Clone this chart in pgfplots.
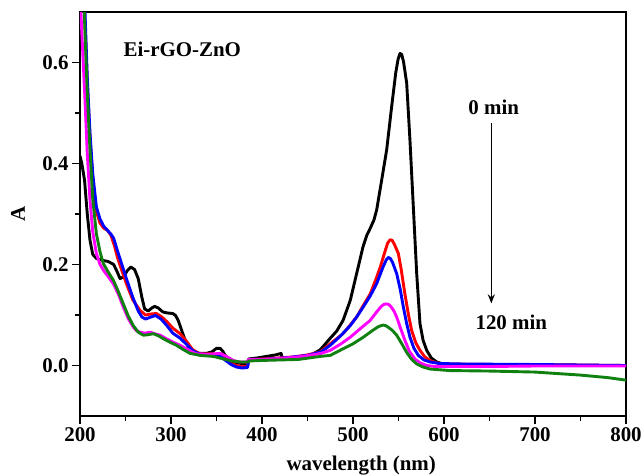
\documentclass[border=0pt]{standalone}
\usepackage{fontspec}
\setmainfont{Liberation Serif}
\usepackage{pgfplots}
\pgfplotsset{compat=1.18}
\usetikzlibrary{arrows.meta}

\definecolor{cblack}{RGB}{0,0,0}
\definecolor{cred}{RGB}{255,0,0}
\definecolor{cblue}{RGB}{0,0,255}
\definecolor{cmag}{RGB}{255,0,255}
\definecolor{cgreen}{RGB}{16,128,16}

\newcommand{\bigbf}{\fontsize{21}{25}\selectfont\bfseries}

\begin{document}
\begin{tikzpicture}
\begin{axis}[
  width=546bp, height=404bp, scale only axis,
  xmin=200, xmax=800, ymin=-0.1, ymax=0.7,
  xtick={200,300,...,800},
  ytick={0,0.2,0.4,0.6},
  minor x tick num=1, minor y tick num=1,
  xtick pos=left, ytick pos=left,
  tick align=outside,
  major tick length=8bp, minor tick length=5bp,
  axis line style={line width=1.3bp},
  every tick/.style={line width=1.3bp, black},
  tick label style={font=\bigbf},
  /pgf/number format/assume math mode=true,
  yticklabel style={/pgf/number format/.cd, fixed, fixed zerofill, precision=1},
  xticklabel style={/pgf/number format/.cd, fixed, precision=0},
  label style={font=\bigbf},
  xlabel={wavelength (nm)},
  ylabel={A},
  xlabel style={at={(axis description cs:0.515,-0.134)}, anchor=base},
  ylabel style={at={(axis description cs:-0.1136,0.5)}, anchor=center},
  every axis plot/.append style={line width=2.9bp, line join=round},
  clip=true,
]
\coordinate (sw) at (rel axis cs:0,0);

% 0 min
\addplot[cblack] table {
200 0.415
202 0.400
205 0.367
208 0.300
211 0.248
214 0.220
218 0.212
225 0.208
231 0.206
237 0.200
241 0.185
244 0.172
248 0.176
252 0.188
256 0.195
260 0.190
264 0.172
268 0.135
271 0.112
275 0.108
279 0.114
282 0.117
286 0.114
291 0.106
296 0.104
302 0.103
305 0.099
308 0.089
312 0.068
316 0.048
321 0.030
328 0.024
339 0.024
345 0.027
350 0.034
354 0.034
357 0.028
361 0.016
365 0.008
373 0.005
382 0.003
384 0.004
385.5 0.013
395 0.015
405 0.018
415 0.021
421 0.024
422 0.016
435 0.015
446 0.016
455 0.022
464 0.031
475 0.054
482 0.068
489 0.089
497 0.129
504 0.182
511 0.235
515 0.257
519 0.272
523 0.288
526 0.308
531.5 0.367
537 0.427
542.5 0.513
547 0.580
549.5 0.606
551.6 0.618
553.5 0.616
555.5 0.602
559 0.559
562.6 0.446
566.3 0.314
570 0.182
573.6 0.083
577 0.050
581 0.030
586 0.015
592 0.007
600 0.002
620 0.001
650 0.000
700 0.000
800 0.000
};

% red
\addplot[cred] table {
200 0.950
203 0.800
205 0.700
208 0.560
211 0.450
214 0.370
218 0.305
222 0.282
226 0.272
230 0.268
234 0.258
238 0.236
241 0.215
246 0.188
251 0.162
258 0.130
266 0.109
272 0.100
278 0.102
284 0.103
290 0.096
296 0.086
302 0.074
310 0.063
317 0.048
324 0.031
331 0.024
339 0.023
347 0.023
354 0.021
360 0.012
366 0.004
372 0.000
378 -0.002
384 -0.002
385.5 0.011
395 0.012
410 0.014
435 0.017
450 0.021
464 0.027
475 0.043
489 0.063
496 0.078
504 0.096
511 0.118
519 0.142
525 0.170
530 0.195
535 0.225
538 0.242
540.7 0.249
543 0.248
545.5 0.240
549.8 0.222
553 0.190
557 0.142
561 0.100
564.5 0.069
569 0.045
573.6 0.030
579 0.017
584.6 0.010
592 0.005
603 0.003
650 0.002
700 0.002
750 0.001
800 0.000
};

% blue
\addplot[cblue] table {
200 1.050
203 0.850
205.5 0.700
208 0.570
211 0.460
214 0.380
218 0.314
222 0.290
226 0.276
230 0.268
234 0.260
237 0.252
241 0.228
246 0.200
251 0.172
258 0.135
264 0.108
268 0.096
272 0.092
278 0.096
283 0.099
289 0.092
295 0.080
302 0.064
310 0.054
317 0.042
324 0.029
331 0.023
339 0.022
347 0.021
354 0.019
360 0.010
366 0.002
372 -0.003
378 -0.005
384 -0.004
385.5 0.010
395 0.011
410 0.013
430 0.016
450 0.020
465 0.027
475 0.040
486 0.058
497 0.079
504 0.096
511.3 0.116
519 0.138
526 0.162
533 0.195
536.5 0.209
538.8 0.214
541 0.212
543.5 0.204
548 0.182
552 0.150
555.3 0.116
559 0.083
562.6 0.056
567 0.034
571.8 0.020
578 0.011
584.6 0.007
595 0.004
620 0.003
700 0.002
800 0.000
};

% magenta
\addplot[cmag] table {
200 0.740
202 0.660
205.5 0.526
208 0.420
211 0.327
214 0.265
218 0.222
222 0.200
226 0.188
231 0.176
236.6 0.162
242 0.142
247.6 0.116
253 0.093
258.6 0.076
262 0.069
266 0.066
271 0.064
277 0.066
282 0.063
288 0.060
295 0.053
302.5 0.046
310 0.040
317 0.033
323 0.027
328 0.023
339 0.022
347 0.023
354 0.024
360 0.019
368.5 0.010
375 0.007
383 0.007
385.5 0.012
400 0.012
420 0.014
445 0.018
465 0.024
475 0.030
486 0.042
497 0.056
508 0.073
518.7 0.089
526 0.106
531 0.117
534 0.121
536.3 0.122
539 0.121
541.5 0.117
545 0.108
548 0.096
552 0.075
557 0.050
562 0.028
568 0.013
574 0.005
581 0.000
590 -0.002
604 -0.002
650 -0.002
700 -0.001
800 -0.001
};

% green
\addplot[cgreen] table {
200 0.950
203 0.800
204.7 0.700
208 0.540
211 0.427
214 0.330
218 0.261
222 0.225
225.6 0.202
231 0.185
236.6 0.169
242 0.147
247.6 0.122
253 0.098
258.6 0.079
264 0.066
269.6 0.060
275 0.061
280.6 0.063
286 0.059
291.6 0.053
299 0.046
306 0.040
314 0.031
321 0.024
332 0.020
346.6 0.018
357.6 0.013
367 0.009
376 0.007
385 0.007
386 0.009
400 0.010
420 0.011
440 0.012
464 0.018
475 0.020
489 0.033
500 0.043
511.3 0.056
522 0.070
528 0.077
531 0.079
533.3 0.080
536 0.079
538.5 0.076
543 0.070
548 0.060
553 0.045
559 0.026
564 0.013
570 0.003
577 -0.003
584.6 -0.007
606 -0.010
650 -0.011
700 -0.013
750 -0.019
780 -0.024
800 -0.029
};

\node[font=\bigbf, anchor=west] at (axis cs:244,0.627) {Ei-rGO-ZnO};
\node[font=\bigbf, anchor=west] at (axis cs:623,0.512) {0 min};
\node[font=\bigbf, anchor=west] at (axis cs:630.8,0.085) {120 min};
\draw[line width=1.6bp, -{Stealth[length=9bp,width=7bp]}] (axis cs:652,0.48) -- (axis cs:652,0.123);
\end{axis}
\pgfresetboundingbox
\path[use as bounding box] ([xshift=-80bp,yshift=-59bp]sw) rectangle ++(644bp,475bp);
\end{tikzpicture}
\end{document}
